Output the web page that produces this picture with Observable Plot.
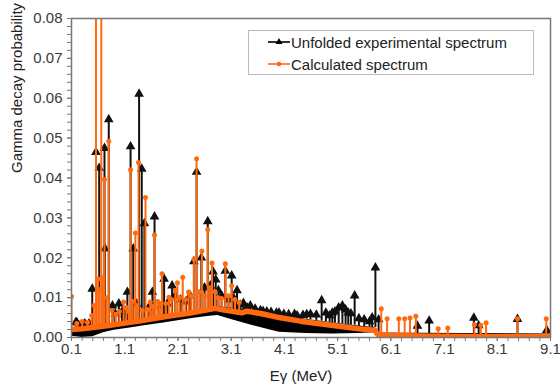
<!DOCTYPE html>
<html><head><meta charset="utf-8">
<script src="https://cdn.jsdelivr.net/npm/d3@7"></script>
<script src="https://cdn.jsdelivr.net/npm/@observablehq/plot@0.6"></script>
<style>
body{margin:0;background:#fff;font-family:"Liberation Sans",Arial,sans-serif;}
#wrap{position:relative;width:560px;height:388px;}
#legend{position:absolute;left:248px;top:30px;width:284px;height:43px;border:1px solid #bbb;background:#fff;font-size:15px;color:#222;}
.row{position:absolute;left:19px;height:22px;display:flex;align-items:center;white-space:nowrap;}
.row svg{margin-right:1px;}
</style></head><body><div id="wrap"><div id="chart"></div><div id="legend"></div></div>
<script>
// ---- data ----
const seriesNames = ["Unfolded experimental spectrum", "Calculated spectrum"];
const xTickValues = [0.1, 1.1, 2.1, 3.1, 4.1, 5.1, 6.1, 7.1, 8.1, 9.1];
const yTickValues = [0, 0.01, 0.02, 0.03, 0.04, 0.05, 0.06, 0.07, 0.08];

// calculated spectrum continuum
const calcBaseE = [0.1,0.3,0.5,0.8,1.1,1.4,1.7,2.0,2.3,2.6,2.8,3.0,3.3,3.4,3.7,4.0,4.4,4.8,5.2,5.5,5.8,5.85,6.0,7.0,8.0,9.1];
const calcBaseV = [0.0020,0.0022,0.0025,0.0030,0.0036,0.0042,0.0049,0.0055,0.0061,0.0068,0.0073,0.0068,0.0062,0.0066,0.0059,0.0050,0.0041,0.0034,0.0027,0.0022,0.0018,0.0008,0.0005,0.0003,0.0002,0.0002];

// experimental continuum (dense scatter band)
const expBandE    = [0.1,0.3,0.5,0.7,0.9,1.2,1.5,1.8,2.1,2.4,2.7,2.85,3.1,3.5,4.0,4.5,5.0,5.5,5.8,5.85,9.1];
const expBandLow  = [0.0003,0.0000,0.0002,0.0012,0.0018,0.0024,0.0030,0.0036,0.0042,0.0048,0.0053,0.0055,0.0045,0.0030,0.0013,0.0010,0.0009,0.0010,0.0012,0.0005,0.0005];
const expBandHigh = [0.0022,0.0025,0.0028,0.0031,0.0034,0.0038,0.0043,0.0049,0.0056,0.0063,0.0070,0.0078,0.0074,0.0069,0.0056,0.0046,0.0037,0.0029,0.0025,0.0011,0.0009];

// experimental peaks (large)
const expPeakE = [0.18,0.49,0.56,0.62,0.72,0.73,0.80,0.87,0.99,1.15,1.21,1.26,1.37,1.42,1.47,1.62,1.66,1.84,1.99,2.05,2.40,2.45,2.54,2.66,2.71,2.76,2.81,2.99,3.11,3.21,3.33,3.46,3.65,3.77,3.95,4.09,4.29,4.34,4.59,4.80,5.00,5.12,5.19,5.25,5.30,5.42,5.70,5.81,5.87,6.60,6.82,7.66,7.75,8.48,9.03];
const expPeakV = [0.0038,0.0122,0.0465,0.0425,0.0475,0.0223,0.0547,0.0080,0.0085,0.0114,0.0479,0.0223,0.0611,0.0423,0.0286,0.0114,0.0303,0.0147,0.0130,0.0105,0.0191,0.0415,0.0200,0.0291,0.0130,0.0165,0.0145,0.0167,0.0155,0.0118,0.0086,0.0080,0.0068,0.0065,0.0062,0.0059,0.0059,0.0055,0.0059,0.0093,0.0062,0.0075,0.0080,0.0070,0.0062,0.0105,0.0040,0.0175,0.0045,0.0029,0.0042,0.0049,0.0030,0.0046,0.0018];
const expPeakBase = [0.0020,0.0022,0.0025,0.0026,0.0028,0.0028,0.0029,0.0030,0.0032,0.0035,0.0036,0.0037,0.0039,0.0040,0.0041,0.0044,0.0045,0.0048,0.0051,0.0053,0.0061,0.0062,0.0064,0.0067,0.0068,0.0070,0.0072,0.0071,0.0070,0.0070,0.0069,0.0067,0.0062,0.0060,0.0058,0.0055,0.0050,0.0049,0.0045,0.0041,0.0037,0.0035,0.0034,0.0033,0.0032,0.0031,0.0026,0.0025,0.0011,0.0009,0.0009,0.0008,0.0008,0.0008,0.0008];
// experimental peaks (small)
const expMinorE = [0.20,0.26,0.35,0.43,0.92,1.05,1.10,1.32,1.55,1.75,1.90,2.15,2.25,2.33,2.60,2.86,2.92,3.05,3.15,3.27,3.40,3.55,3.70,3.85,4.00,4.18,4.45,4.52,4.70,4.88,4.95,5.05,5.35,5.50,5.60,5.75];
const expMinorV = [0.0038,0.0030,0.0035,0.0035,0.0060,0.0065,0.0058,0.0085,0.0075,0.0080,0.0085,0.0095,0.0090,0.0105,0.0125,0.0118,0.0105,0.0095,0.0098,0.0082,0.0075,0.0072,0.0066,0.0064,0.0062,0.0058,0.0056,0.0058,0.0057,0.0062,0.0055,0.0065,0.0060,0.0048,0.0045,0.0050];
const expMinorBase = [0.0020,0.0020,0.0022,0.0024,0.0031,0.0033,0.0034,0.0038,0.0043,0.0046,0.0049,0.0056,0.0058,0.0060,0.0066,0.0072,0.0071,0.0071,0.0070,0.0069,0.0068,0.0065,0.0061,0.0059,0.0056,0.0053,0.0047,0.0046,0.0043,0.0039,0.0038,0.0036,0.0031,0.0028,0.0027,0.0025];

// calculated peaks (large)
const calcPeakE = [0.10,0.40,0.56,0.60,0.66,0.72,0.80,0.86,1.08,1.21,1.30,1.36,1.43,1.49,1.58,1.66,1.68,1.80,1.93,2.05,2.09,2.19,2.30,2.40,2.45,2.55,2.66,2.74,2.86,2.99,3.05,3.11,5.92,6.03,6.25,6.36,6.46,6.57,6.99,7.17,7.67,7.79,7.89,8.48,9.02];
const calcPeakV = [0.0103,0.0038,0.0850,0.0147,0.0850,0.0396,0.0492,0.0068,0.0089,0.0421,0.0262,0.0439,0.0068,0.0351,0.0089,0.0257,0.0076,0.0160,0.0101,0.0118,0.0137,0.0151,0.0114,0.0196,0.0448,0.0217,0.0271,0.0187,0.0100,0.0185,0.0105,0.0130,0.0072,0.0047,0.0047,0.0047,0.0049,0.0053,0.0022,0.0024,0.0032,0.0031,0.0037,0.0047,0.0047];
const calcPeakBase = [0.0020,0.0023,0.0025,0.0026,0.0027,0.0028,0.0030,0.0031,0.0035,0.0038,0.0040,0.0041,0.0042,0.0044,0.0046,0.0048,0.0048,0.0051,0.0054,0.0056,0.0057,0.0059,0.0061,0.0063,0.0064,0.0068,0.0070,0.0072,0.0072,0.0068,0.0067,0.0066,0.0006,0.0004,0.0004,0.0004,0.0004,0.0004,0.0004,0.0004,0.0004,0.0004,0.0004,0.0004,0.0004];
// calculated peaks (small)
const calcMinorE = [0.20,0.30,0.48,0.52,0.62,0.69,0.76,0.93,1.00,1.13,1.18,1.25,1.33,1.53,1.62,1.72,1.76,1.87,1.98,2.13,2.24,2.35,2.50,2.60,2.70,2.80,2.92,3.17,3.25];
const calcMinorV = [0.0035,0.0040,0.0055,0.0080,0.0120,0.0150,0.0100,0.0058,0.0065,0.0075,0.0065,0.0090,0.0080,0.0070,0.0078,0.0090,0.0085,0.0085,0.0095,0.0100,0.0095,0.0105,0.0115,0.0105,0.0125,0.0115,0.0098,0.0095,0.0088];
const calcMinorBase = [0.0021,0.0022,0.0024,0.0025,0.0026,0.0027,0.0029,0.0032,0.0033,0.0037,0.0038,0.0039,0.0041,0.0045,0.0047,0.0050,0.0051,0.0053,0.0055,0.0058,0.0060,0.0062,0.0066,0.0068,0.0070,0.0073,0.0071,0.0065,0.0063];

// ---- tables built from the arrays ----
const ORANGE = "#ff6a10", BLACK = "#000";
const calcBase = calcBaseE.map((E, i) => ({E, v: calcBaseV[i]}));
const band = expBandE.map((E, i) => ({E, low: expBandLow[i], high: expBandHigh[i]}));
const expPeaks = expPeakE.map((E, i) => ({E, v: expPeakV[i], base: expPeakBase[i]}))
  .concat(expMinorE.map((E, i) => ({E, v: expMinorV[i], base: expMinorBase[i]})));
const calcPeaks = calcPeakE.map((E, i) => ({E, v: calcPeakV[i], base: calcPeakBase[i]}))
  .concat(calcMinorE.map((E, i) => ({E, v: calcMinorV[i], base: calcMinorBase[i]})));
const xMinor = d3.range(0, 46).map(k => +(0.1 + 0.2 * k).toFixed(2));
const yMinor = d3.range(0, 41).map(k => +(0.002 * k).toFixed(3));

const chart = Plot.plot({
  width: 560, height: 388,
  marginLeft: 71, marginRight: 10, marginTop: 18, marginBottom: 51,
  style: {fontFamily: "'Liberation Sans', Arial, sans-serif", fontSize: "15px", color: "#333", background: "#fff", overflow: "visible"},
  x: {domain: [0.1, 9.1]},
  y: {domain: [0, 0.08]},
  marks: [
    Plot.areaY(band, {x: "E", y1: "low", y2: "high", fill: BLACK}),
    Plot.ruleX(expPeaks, {x: "E", y1: "base", y2: "v", stroke: "#111", strokeWidth: 2, clip: true}),
    Plot.dot(expPeaks, {x: "E", y: "v", symbol: "triangle", fill: "#111", r: 3.6, clip: true}),
    Plot.ruleX(calcPeaks, {x: "E", y1: "base", y2: "v", stroke: ORANGE, strokeWidth: 2, clip: true}),
    Plot.dot(calcPeaks, {x: "E", y: "v", fill: ORANGE, r: 2.5, clip: true}),
    Plot.line(calcBase, {x: "E", y: "v", stroke: ORANGE, strokeWidth: 5.5, clip: true}),
    Plot.frame({stroke: "#777", strokeWidth: 1.5}),
    Plot.axisX({ticks: xMinor, tickSize: 4, tickFormat: () => "", stroke: "#777", label: null}),
    Plot.axisX({ticks: xTickValues, tickSize: 4, tickPadding: 2, tickFormat: d => d.toFixed(1), stroke: "#777", fill: "#3a3a3a", label: null}),
    Plot.axisY({ticks: yMinor, tickSize: 4, tickFormat: () => "", stroke: "#777", label: null}),
    Plot.axisY({ticks: yTickValues, tickSize: 4, tickPadding: 5, tickFormat: d => d.toFixed(2), stroke: "#777", fill: "#3a3a3a", label: null}),
    Plot.text(["Gamma decay probability"], {frameAnchor: "left", rotate: -90, dx: -54, dy: -5, fill: "#222", fontSize: 15}),
    Plot.text(["E\u03b3 (MeV)"], {frameAnchor: "bottom", dx: -10, dy: 43, fill: "#222", fontSize: 15})
  ]
});
document.getElementById("chart").appendChild(chart);

// legend
const legend = document.getElementById("legend");
seriesNames.forEach((name, i) => {
  const row = document.createElement("div");
  row.className = "row";
  row.style.top = (i * 22) + "px";
  const col = i === 0 ? BLACK : ORANGE;
  const marker = i === 0
    ? `<path d="M11,2 L14.5,8 L7.5,8 Z" fill="${col}"/>`
    : `<circle cx="11" cy="6" r="2.3" fill="${col}"/>`;
  row.innerHTML = `<svg width="22" height="12"><line x1="0" x2="22" y1="6" y2="6" stroke="${col}" stroke-width="1.6"/>${marker}</svg><span>${name}</span>`;
  legend.appendChild(row);
});
</script>
</body></html>
